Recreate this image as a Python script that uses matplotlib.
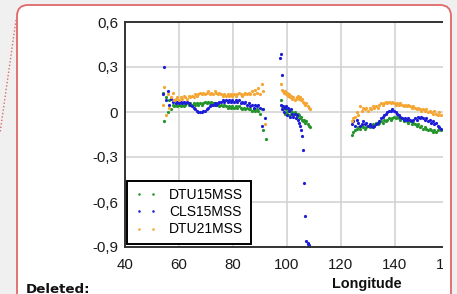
import numpy as np
import matplotlib
matplotlib.use("Agg")
import matplotlib.pyplot as plt
from matplotlib.patches import FancyBboxPatch, Rectangle
from matplotlib.lines import Line2D
from matplotlib.transforms import IdentityTransform

plt.rcParams["font.family"] = ["Liberation Sans", "DejaVu Sans"]

nan = np.nan

# ---- dados (longitude / diferenca em m) ----
lon_a = [54.0, 54.6, 55.2, 55.8, 56.4, 57.0, 57.6, 58.2, 58.8, 59.4, 60.0, 60.6, 61.2, 61.8,
         62.4, 63.0, 63.6, 64.2, 64.8, 65.4, 66.0, 66.6, 67.2, 67.8, 68.4, 69.0, 69.6, 70.2,
         70.8, 71.4, 72.0, 72.6, 73.2, 73.8, 74.4, 75.0, 75.6, 76.2, 76.8, 77.4, 78.0, 78.6,
         79.2, 79.8, 80.4, 81.0, 81.6, 82.2, 82.8, 83.4, 84.0, 84.6, 85.2, 85.8, 86.4, 87.0,
         87.6, 88.2, 88.8, 89.4, 90.0, 90.6, 91.2, 91.8, 92.4]
dtu15_a = [0.13, -0.06, 0.10, 0.00, 0.08, 0.02, 0.05, 0.04, 0.05, 0.04, 0.05, 0.04, 0.05, 0.04,
           0.05, 0.06, 0.05, 0.06, 0.05, 0.06, 0.05, 0.06, 0.05, 0.06, 0.05, 0.06, 0.07, 0.06,
           0.07, 0.06, 0.07, 0.06, 0.05, 0.06, 0.05, 0.04, 0.05, 0.04, 0.05, 0.04, 0.03, 0.04,
           0.03, 0.04, 0.03, 0.04, 0.03, 0.04, 0.03, 0.02, 0.03, 0.02, 0.03, 0.02, 0.02, 0.01,
           0.02, 0.01, 0.02, 0.01, -0.01, 0.02, -0.12, nan, -0.18]
cls15_a = [0.12, 0.30, 0.08, 0.14, 0.05, 0.09, 0.07, 0.08, 0.06, 0.07, 0.06, 0.07, 0.06, 0.07,
           0.06, 0.07, 0.06, 0.05, 0.04, 0.03, 0.02, 0.01, 0.00, 0.00, 0.00, 0.01, 0.01, 0.02,
           0.03, 0.04, 0.05, 0.05, 0.06, 0.05, 0.06, 0.07, 0.07, 0.08, 0.07, 0.08, 0.07, 0.08,
           0.07, 0.08, 0.07, 0.08, 0.07, 0.08, 0.06, 0.07, 0.06, 0.07, 0.05, 0.06, 0.04, 0.05,
           0.03, 0.05, 0.04, 0.05, 0.03, -0.09, 0.02, -0.04, nan]
dtu21_a = [0.05, 0.17, -0.02, 0.12, 0.03, 0.10, 0.13, 0.08, 0.09, 0.10, 0.08, 0.10, 0.09, 0.11,
           0.10, 0.09, 0.11, 0.10, 0.11, 0.10, 0.12, 0.11, 0.12, 0.13, 0.12, 0.13, 0.12, 0.13,
           0.14, 0.12, 0.13, 0.12, 0.14, 0.13, 0.12, 0.13, 0.12, 0.11, 0.12, 0.11, 0.12, 0.11,
           0.12, 0.11, 0.12, 0.11, 0.12, 0.13, 0.12, 0.11, 0.12, 0.13, 0.12, 0.13, 0.12, 0.14,
           0.12, 0.15, 0.13, 0.16, 0.12, 0.19, 0.14, -0.08, nan]

lon_b = [97.6, 98.0, 98.4, 98.8, 99.2, 99.6, 100.0, 100.4, 100.8, 101.2, 101.6, 102.0, 102.4,
         102.8, 103.2, 103.6, 104.0, 104.4, 104.8, 105.2, 105.6, 106.0, 106.4, 106.8, 107.2,
         107.6, 108.0, 108.4]
dtu15_b = [0.08, 0.04, 0.02, 0.03, -0.01, 0.02, 0.00, 0.02, -0.02, 0.01, -0.01, 0.00, -0.02,
           0.00, -0.01, -0.03, -0.01, -0.02, -0.04, -0.03, -0.05, -0.06, -0.05, -0.07, -0.06,
           -0.08, -0.09, -0.10]
cls15_b = [0.05, 0.02, 0.04, 0.00, 0.03, 0.04, -0.02, 0.03, 0.01, -0.03, 0.02, -0.01, -0.03,
           -0.01, -0.04, -0.02, -0.05, -0.07, -0.09, -0.12, -0.16, -0.25, -0.47, -0.69, -0.86,
           -0.88, -0.895, nan]
dtu21_b = [0.19, 0.15, 0.14, 0.13, 0.14, 0.12, 0.13, 0.11, 0.12, 0.10, 0.11, 0.09, 0.10,
           0.08, 0.09, 0.10, 0.11, 0.09, 0.10, 0.08, 0.09, 0.07, 0.06, 0.05, 0.06, 0.04,
           0.03, 0.02]
# pontos isolados do CLS15MSS
lon_cls_extra = [97.5, 97.8, 98.2, 107.9, 108.2]
cls15_extra = [0.36, 0.39, 0.25, -0.87, -0.885]

lon_c = [124.0, 124.6, 125.2, 125.8, 126.4, 127.0, 127.6, 128.2, 128.8, 129.4, 130.0, 130.6,
         131.2, 131.8, 132.4, 133.0, 133.6, 134.2, 134.8, 135.4, 136.0, 136.6, 137.2, 137.8,
         138.4, 139.0, 139.6, 140.2, 140.8, 141.4, 142.0, 142.6, 143.2, 143.8, 144.4, 145.0,
         145.6, 146.2, 146.8, 147.4, 148.0, 148.6, 149.2, 149.8, 150.4, 151.0, 151.6, 152.2,
         152.8, 153.4, 154.0, 154.6, 155.2, 155.8, 156.4, 157.0]
dtu15_c = [-0.15, -0.13, -0.12, -0.11, -0.10, -0.11, -0.09, -0.10, -0.11, -0.10, -0.09, -0.10,
           -0.09, -0.08, -0.09, -0.07, -0.08, -0.07, -0.06, -0.07, -0.05, -0.06, -0.05, -0.04,
           -0.05, -0.04, -0.03, -0.04, -0.03, -0.04, -0.05, -0.04, -0.06, -0.05, -0.06, -0.07,
           -0.06, -0.08, -0.07, -0.08, -0.09, -0.08, -0.10, -0.09, -0.11, -0.10, -0.11, -0.12,
           -0.11, -0.12, -0.13, -0.12, -0.13, -0.12, -0.11, -0.12]
cls15_c = [-0.08, -0.06, -0.09, -0.05, -0.07, -0.09, -0.08, -0.06, -0.08, -0.07, -0.09, -0.08,
           -0.09, -0.10, -0.09, -0.08, -0.07, -0.06, -0.04, -0.03, -0.02, -0.01, 0.00, 0.01,
           0.01, 0.02, 0.01, 0.00, -0.01, -0.02, -0.03, -0.04, -0.05, -0.04, -0.05, -0.04,
           -0.05, -0.06, -0.05, -0.04, -0.05, -0.03, -0.04, -0.03, -0.04, -0.05, -0.04, -0.06,
           -0.05, -0.07, -0.06, -0.08, -0.07, -0.09, -0.10, -0.11]
dtu21_c = [-0.06, -0.04, -0.03, 0.00, -0.02, 0.04, 0.01, 0.03, 0.02, 0.03, 0.01, 0.03,
           0.02, 0.04, 0.03, 0.04, 0.03, 0.05, 0.06, 0.05, 0.06, 0.07, 0.06, 0.07,
           0.06, 0.07, 0.06, 0.05, 0.06, 0.05, 0.06, 0.05, 0.04, 0.05, 0.04, 0.05,
           0.04, 0.03, 0.04, 0.03, 0.02, 0.03, 0.02, 0.01, 0.02, 0.01, 0.02, 0.00,
           0.01, 0.00, -0.01, 0.01, -0.01, -0.02, 0.00, -0.02]

series = ["DTU15MSS", "CLS15MSS", "DTU21MSS"]
cores = ["#23952b", "#1d1dd8", "#f5a632"]
xticks = [40, 60, 80, 100, 120, 140, 160]
yticks = [0.6, 0.3, 0, -0.3, -0.6, -0.9]
ylabels = ["0,6", "0,3", "0", "-0,3", "-0,6", "-0,9"]

W, H = 457, 294
fig = plt.figure(figsize=(W / 100, H / 100), dpi=100, facecolor="#f0f0f0")
ident = IdentityTransform()

# caixa do comentario (fundo branco, borda vermelha arredondada)
fundo = FancyBboxPatch((17, -40), 434, 289 + 40, boxstyle="round,pad=0,rounding_size=11",
                       transform=ident, fc="white", ec="none", zorder=-1)
fig.add_artist(fundo)
fig.add_artist(Line2D([16 / W, 0], [1 - 20 / H, 1 - 133 / H], transform=fig.transFigure,
                      color="#e06868", lw=1.0, ls=(0, (1, 1.5))))

ax = fig.add_axes([125 / W, 47 / H, 324 / W, 225 / H])
ax.set_facecolor("white")

lon = {
    "DTU15MSS": lon_a + lon_b + lon_c,
    "CLS15MSS": lon_a + lon_b + lon_c + lon_cls_extra,
    "DTU21MSS": lon_a + lon_b + lon_c,
}
val = {
    "DTU15MSS": dtu15_a + dtu15_b + dtu15_c,
    "CLS15MSS": cls15_a + cls15_b + cls15_c + cls15_extra,
    "DTU21MSS": dtu21_a + dtu21_b + dtu21_c,
}
for nome, cor in zip(series, cores):
    ax.plot(lon[nome], val[nome], ls="none", marker="o", ms=2.3, mew=0, color=cor, label=nome)

ax.set_xlim(40, 160)
ax.set_ylim(-0.9, 0.6)
ax.set_xticks(xticks)
ax.set_yticks(yticks)
ax.set_yticklabels(ylabels)
ax.grid(True, color="#d3d3d3", lw=1.2)
ax.set_axisbelow(True)
ax.tick_params(length=0, labelsize=10.8, labelcolor="#1a1a1a")
ax.tick_params(axis="x", pad=8)
ax.tick_params(axis="y", pad=5)
for lado in ["left", "bottom", "top"]:
    ax.spines[lado].set_color("#333333")
    ax.spines[lado].set_linewidth(1.4)
ax.spines["right"].set_visible(False)

leg = ax.legend(loc="lower left", bbox_to_anchor=(127 / W, 50 / H), bbox_transform=fig.transFigure,
                borderaxespad=0, numpoints=2, fontsize=10, frameon=True, fancybox=False,
                framealpha=1, edgecolor="black", handlelength=1.6, handletextpad=0.9,
                borderpad=0.55, labelspacing=0.22, markerscale=0.8)
leg.get_frame().set_linewidth(1.4)

fig.text(367 / W, 1 - 284 / H, "Longitude", ha="center", va="center", fontsize=10.4,
         fontweight="bold", color="#111111")
fig.text(26 / W, 1 - 283 / H, "Deleted:", ha="left", va="top", fontsize=9.6,
         fontweight="bold", family="DejaVu Sans", color="#111111")

# imagem do grafico cortada a direita
fig.add_artist(Rectangle((442.5, -10), 8, 294 - 14 + 10, transform=ident, fc="white",
                         ec="none", zorder=5))
fig.add_artist(Rectangle((452, -10), 10, 320, transform=ident, fc="#f0f0f0", ec="none",
                         zorder=5))
borda = FancyBboxPatch((17, -40), 434, 289 + 40, boxstyle="round,pad=0,rounding_size=11",
                       transform=ident, fc="none", ec="#e06868", lw=1.3, zorder=6)
fig.add_artist(borda)

fig.savefig("out.png", dpi=100, facecolor=fig.get_facecolor())
